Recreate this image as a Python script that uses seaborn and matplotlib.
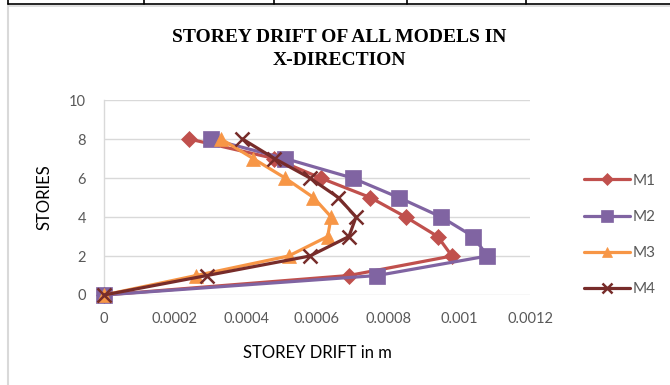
import matplotlib
matplotlib.use("Agg")
import matplotlib.pyplot as plt
from matplotlib.lines import Line2D
import seaborn as sns
import pandas as pd

# Storey levels and storey drift (m) for each model, X-direction
stories = [0, 1, 2, 3, 4, 5, 6, 7, 8]
m1 = [0, 0.00069, 0.00098, 0.00094, 0.00085, 0.00075, 0.00061, 0.00048, 0.00024]
m2 = [0, 0.00077, 0.00108, 0.00104, 0.00095, 0.00083, 0.00070, 0.00051, 0.00030]
m3 = [0, 0.00026, 0.00052, 0.00063, 0.00064, 0.00059, 0.00051, 0.00042, 0.00033]
m4 = [0, 0.00029, 0.00058, 0.00069, 0.00071, 0.00066, 0.00058, 0.00048, 0.00039]
models = ["M1", "M2", "M3", "M4"]
x_ticks = [0, 0.0002, 0.0004, 0.0006, 0.0008, 0.001, 0.0012]
x_tick_labels = ["0", "0.0002", "0.0004", "0.0006", "0.0008", "0.001", "0.0012"]
y_ticks = [0, 2, 4, 6, 8, 10]

colors = {"M1": "#C0504D", "M2": "#8064A2", "M3": "#F79646", "M4": "#772C2A"}
markers = {"M1": "D", "M2": "s", "M3": "^", "M4": "x"}
msizes = {"M1": 8, "M2": 11, "M3": 10.5, "M4": 10}

df = pd.concat([
    pd.DataFrame({"model": name, "storey": stories, "drift": vals})
    for name, vals in zip(models, [m1, m2, m3, m4])
], ignore_index=True)

sns.set_theme(style="white")
plt.rcParams["font.family"] = ["Lato", "DejaVu Sans"]
grey = "#595959"

fig = plt.figure(figsize=(6.7, 3.85), dpi=100)
ax = fig.add_axes([104 / 670, 1 - 295 / 385, (530 - 104) / 670, (295 - 100) / 385])

for name in models:
    sub = df[df["model"] == name]
    sns.lineplot(data=sub, x="drift", y="storey", sort=False, estimator=None,
                 color=colors[name], linewidth=2.3, marker=markers[name],
                 markersize=msizes[name], markeredgewidth=1.8 if name == "M4" else 0.5,
                 markeredgecolor=colors[name], ax=ax, legend=False, zorder=3)

ax.set_xlim(0, 0.0012)
ax.set_ylim(0, 10)
ax.set_xticks(x_ticks)
ax.set_xticklabels(x_tick_labels)
ax.set_yticks(y_ticks)
ax.yaxis.grid(True, color="#D9D9D9", linewidth=1)
ax.xaxis.grid(False)
for side in ["top", "right", "bottom"]:
    ax.spines[side].set_visible(False)
ax.spines["left"].set_color("#D9D9D9")
ax.spines["left"].set_linewidth(1)
ax.tick_params(axis="both", colors=grey, labelsize=10.5, length=0, pad=12)
ax.tick_params(axis="y", pad=13)
ax.set_xlabel("STOREY DRIFT in m", fontsize=12, color="#000000", labelpad=14)
ax.set_ylabel("STORIES", fontsize=12, color="#000000", labelpad=12)
for ln in ax.lines:
    ln.set_clip_on(False)

fig.text(0.506, 1 - 49 / 385, "STOREY DRIFT OF ALL MODELS IN\nX-DIRECTION",
         ha="center", va="center", fontsize=14, fontweight="bold",
         family=["Liberation Serif"], color="#000000", linespacing=1.4)

handles = [Line2D([0], [0], color=colors[n], linewidth=2.3, marker=markers[n],
                  markersize=msizes[n] * 0.75, markeredgewidth=1.8 if n == "M4" else 0.5,
                  markeredgecolor=colors[n]) for n in models]
leg = fig.legend(handles, models, loc="center left", bbox_to_anchor=(578 / 670, 1 - 235 / 385),
                 frameon=False, fontsize=11, labelspacing=1.45, handlelength=3.0,
                 handletextpad=0.2, borderaxespad=0)
for t in leg.get_texts():
    t.set_color(grey)

# Outer chart frame and the table rule above it
fig.add_artist(Line2D([8 / 670, 8 / 670], [0, 1 - 5 / 385], color="#D9D9D9", linewidth=1.5,
                      transform=fig.transFigure))
fig.add_artist(Line2D([8 / 670, 1], [1 - 6 / 385, 1 - 6 / 385], color="#D9D9D9", linewidth=1.2,
                      transform=fig.transFigure))
fig.add_artist(Line2D([8 / 670, 1], [1 - 4 / 385, 1 - 4 / 385], color="#000000", linewidth=1.2,
                      transform=fig.transFigure))
for xp in [8, 144, 274, 407, 526]:
    fig.add_artist(Line2D([xp / 670, xp / 670], [1 - 4 / 385, 1], color="#000000", linewidth=1.2,
                          transform=fig.transFigure))

fig.savefig("out.png", dpi=100)
